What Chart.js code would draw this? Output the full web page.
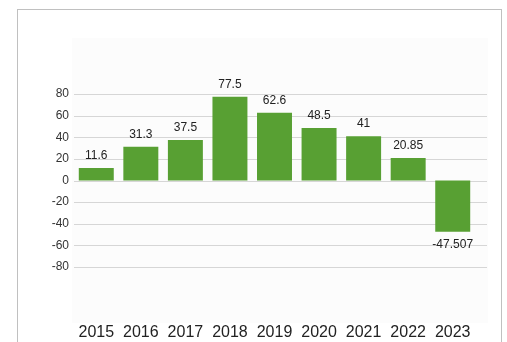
<!DOCTYPE html>
<html>
<head>
<meta charset="utf-8">
<script src="https://cdn.jsdelivr.net/npm/chart.js@4/dist/chart.umd.min.js"></script>
<style>
  html, body { margin: 0; padding: 0; background: #fff; overflow: hidden; }
  #frame { position: absolute; left: 17px; top: 9px; width: 483px; height: 400px; border: 1px solid #c0c0c0; }
  #wrap { position: absolute; left: 0; top: 0; width: 507px; height: 342px; }
</style>
</head>
<body>
<div id="frame"></div>
<div id="wrap"><canvas id="chart-one" width="507" height="342"></canvas></div>
<script>
const years = ["2015", "2016", "2017", "2018", "2019", "2020", "2021", "2022", "2023"];
const values = [11.6, 31.3, 37.5, 77.5, 62.6, 48.5, 41, 20.85, -47.507];
const valueLabels = ["11.6", "31.3", "37.5", "77.5", "62.6", "48.5", "41", "20.85", "-47.507"];
const yTicks = [-80, -60, -40, -20, 0, 20, 40, 60, 80];

// faint plot background + grid lines that run a bit past the last bar
const backdrop = {
  id: 'backdrop',
  beforeDatasetsDraw(chart) {
    const ctx = chart.ctx;
    const y = chart.scales.y;
    const a = chart.chartArea;
    ctx.save();
    ctx.fillStyle = '#fcfcfc';
    ctx.fillRect(72, 38, 416, 285);
    ctx.strokeStyle = '#d6d6d6';
    ctx.lineWidth = 1;
    yTicks.forEach(t => {
      const py = Math.round(y.getPixelForValue(t)) + 0.5;
      ctx.beginPath();
      ctx.moveTo(a.left, py);
      ctx.lineTo(a.right + 12, py);
      ctx.stroke();
    });
    ctx.restore();
  }
};

const barLabels = {
  id: 'barLabels',
  afterDatasetsDraw(chart) {
    const ctx = chart.ctx;
    const meta = chart.getDatasetMeta(0);
    ctx.save();
    ctx.font = '12px "Liberation Sans", Arial, sans-serif';
    ctx.fillStyle = '#222';
    ctx.textAlign = 'center';
    ctx.textBaseline = 'alphabetic';
    meta.data.forEach((bar, i) => {
      const v = values[i];
      const ty = v >= 0 ? bar.y - 9 : bar.y + 16;
      ctx.fillText(valueLabels[i], bar.x, ty);
    });
    ctx.restore();
  }
};

const ctx = document.getElementById('chart-one').getContext('2d');

const taskChart = new Chart(ctx, {
  type: 'bar',
  data: {
    labels: years,
    datasets: [{
      data: values,
      backgroundColor: '#58a033',
      barPercentage: 0.785,
      categoryPercentage: 1
    }]
  },
  options: {
    responsive: false,
    animation: false,
    layout: { padding: { top: 94, right: 32, bottom: 0, left: 0 } },
    plugins: {
      legend: { display: false },
      tooltip: { enabled: false }
    },
    scales: {
      x: {
        // tick marks hidden, their length just pushes labels down
        grid: { display: false, drawTicks: true, tickLength: 56 },
        border: { display: false },
        ticks: {
          color: '#222',
          padding: 0,
          font: { family: '"Liberation Sans", Arial, sans-serif', size: 16 },
          maxRotation: 0
        },
        afterFit(scale) { scale.height = 75; }
      },
      y: {
        min: -80,
        max: 80,
        grid: { display: false, drawTicks: false },
        border: { display: false },
        ticks: {
          stepSize: 20,
          color: '#333',
          padding: 5,
          font: { family: '"Liberation Sans", Arial, sans-serif', size: 12 }
        },
        afterFit(scale) { scale.width = 74; }
      }
    }
  },
  plugins: [backdrop, barLabels]
});
</script>
</body>
</html>
